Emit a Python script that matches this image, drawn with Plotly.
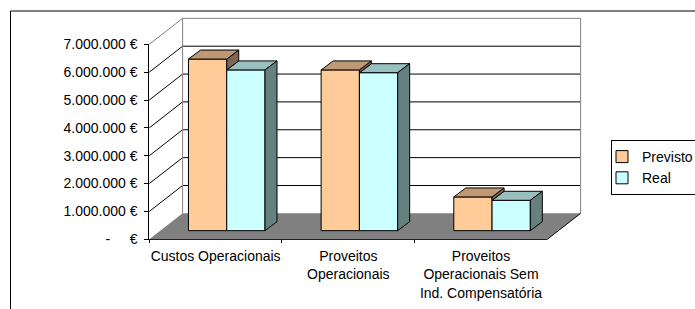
import plotly.graph_objects as go

# ---------------- data ----------------
categories = ["Custos Operacionais",
              "Proveitos<br>Operacionais",
              "Proveitos<br>Operacionais Sem<br>Ind. Compensatória"]
series_names = ["Previsto", "Real"]
previsto = [6160000, 5770000, 1210000]
real = [5770000, 5670000, 1090000]
tick_values = [0, 1000000, 2000000, 3000000, 4000000, 5000000, 6000000, 7000000]
tick_labels = ["-\u00a0\u00a0\u00a0\u00a0\u00a0€", "1.000.000 €", "2.000.000 €", "3.000.000 €",
               "4.000.000 €", "5.000.000 €", "6.000.000 €", "7.000.000 €"]

# ---------------- styles / geometry (pixels) ----------------
W, H = 695, 309
FONT = "Liberation Sans, Arial, sans-serif"
FS = 14
FX0, FX1 = 149.3, 547.3     # front plane left/right
FY0, FY7 = 239.3, 44.3      # front plane value 0 / value max
YMAX = 7000000
DUX, DUY = 11.1, 8.65       # one depth step (right, up)
BDX, BDY = 12.0, 9.0        # bar depth
GROUP = 0.577               # bar group width (category units)
LEG_X, LEG_Y = 611, 140     # legend box top-left (px)

front_cols = {"Previsto": "#FFCC99", "Real": "#CCFFFF"}
top_cols = {"Previsto": "#BF9973", "Real": "#99C0C0"}
side_cols = {"Previsto": "#806650", "Real": "#668080"}

ncat = len(categories)
ppc = (FX1 - FX0) / ncat          # px per category
ppv = (FY0 - FY7) / YMAX          # px per value unit
BX0 = FX0 + DUX                   # bar plane: px of category -0.5
BY0 = FY0 - DUY                   # bar plane: px of value 0

dux, duy = DUX / ppc, DUY / ppv   # depth step in world units
bdx, bdy = BDX / ppc, BDY / ppv   # bar depth in world units

x2range = [-0.5 - BX0 / ppc, -0.5 + (W - BX0) / ppc]
y2range = [-(H - BY0) / ppv, BY0 / ppv]

fig = go.Figure()

# bars (front faces) in bar plane
series_vals = {"Previsto": previsto, "Real": real}
for i, name in enumerate(series_names):
    fig.add_trace(go.Bar(
        x=categories, y=series_vals[name], name=name,
        xaxis="x2", yaxis="y2",
        marker=dict(color=front_cols[name], line=dict(color="black", width=1)),
        legendgroup=name,
    ))

# invisible trace on front axes to register categories
fig.add_trace(go.Scatter(x=categories, y=[None] * ncat, xaxis="x", yaxis="y",
                         showlegend=False, hoverinfo="skip", mode="markers"))


def path(pts):
    return "M " + " L ".join(f"{x:.5f},{y:.2f}" for x, y in pts) + " Z"


shapes = []


def poly(pts, fill, lc="rgba(0,0,0,0)", lw=0, layer="below"):
    shapes.append(dict(type="path", xref="x2", yref="y2", path=path(pts), fillcolor=fill,
                       line=dict(color=lc, width=lw), layer=layer))


def seg(p, q, color, width=1, layer="below"):
    shapes.append(dict(type="line", xref="x2", yref="y2", x0=p[0], y0=p[1], x1=q[0], y1=q[1],
                       line=dict(color=color, width=width), layer=layer))


xl, xr = -0.5, ncat - 0.5
# planes: front (depth -1), back (depth +2) relative to bar plane
fxl, fxr, fy = xl - dux, xr - dux, -duy
bxl, bxr, by = xl + 2 * dux, xr + 2 * dux, 2 * duy

# back wall
poly([(bxl, by), (bxr, by), (bxr, by + YMAX), (bxl, by + YMAX)], "white")
# left wall
poly([(fxl, fy), (bxl, by), (bxl, by + YMAX), (fxl, fy + YMAX)], "white")
# gridlines
for v in tick_values[1:]:
    col = "#808080" if v == YMAX else "black"
    seg((fxl, fy + v), (bxl, by + v), col)
    seg((bxl, by + v), (bxr, by + v), col)
seg((bxl, by), (bxl, by + YMAX), "#808080")
seg((bxr, by), (bxr, by + YMAX), "#808080")
# floor
poly([(fxl, fy), (fxr, fy), (bxr, by), (bxl, by)], "#808080")
seg((fxr, fy), (bxr, by), "black")

# 3D faces of the bars
w = GROUP / len(series_names)
for c in range(ncat):
    hp, hr = previsto[c], real[c]
    # Real bar (right)
    L = c - GROUP / 2 + w
    R = L + w
    poly([(L, hr), (R, hr), (R + bdx, hr + bdy), (L + bdx, hr + bdy)], top_cols["Real"], "black", 1, "above")
    poly([(R, 0), (R, hr), (R + bdx, hr + bdy), (R + bdx, bdy)], side_cols["Real"], "black", 1, "above")
    # Previsto bar (left) - visible parts
    L = c - GROUP / 2
    R = L + w
    if hp > hr:
        poly([(R, hr), (R, hp), (R + bdx, hp + bdy), (R + bdx, hr + bdy)], side_cols["Previsto"], "black", 1, "above")
    poly([(L, hp), (R, hp), (R + bdx, hp + bdy), (L + bdx, hp + bdy)], top_cols["Previsto"], "black", 1, "above")

# outer chart border
shapes.append(dict(type="rect", xref="paper", yref="paper", x0=10.5 / W, x1=1.2, y0=-0.2, y1=1 - 11 / H,
                   line=dict(color="black", width=1), fillcolor="rgba(0,0,0,0)", layer="above"))

fig.update_layout(
    width=W, height=H, autosize=False,
    margin=dict(l=0, r=0, t=0, b=0, pad=0, autoexpand=False),
    paper_bgcolor="white", plot_bgcolor="rgba(0,0,0,0)",
    font=dict(family=FONT, size=FS, color="black"),
    barmode="group", bargap=1 - GROUP, bargroupgap=0,
    shapes=shapes,
    showlegend=True,
    legend=dict(x=LEG_X / W, y=1 - LEG_Y / H, xanchor="left", yanchor="top",
                bgcolor="white", bordercolor="black", borderwidth=1,
                font=dict(family=FONT, size=FS, color="black"),
                tracegroupgap=0, indentation=-10),
    xaxis=dict(domain=[FX0 / W, FX1 / W], range=[-0.5, ncat - 0.5], type="category",
               categoryorder="array", categoryarray=categories,
               showline=True, linecolor="black", linewidth=1, showgrid=False, zeroline=False,
               ticks="outside", tickson="boundaries", ticklen=3, tickcolor="black", tickangle=0,
               ticklabelstandoff=4,
               anchor="y", fixedrange=True, automargin=False),
    yaxis=dict(domain=[(H - FY0) / H, (H - FY7) / H], range=[0, YMAX],
               tickvals=tick_values, ticktext=tick_labels,
               showline=True, linecolor="black", linewidth=1, showgrid=False, zeroline=False,
               ticks="outside", ticklen=4, tickcolor="black", anchor="x", fixedrange=True,
               ticklabelstandoff=4, automargin=False),
    xaxis2=dict(domain=[0, 1], range=x2range, type="category", visible=False, anchor="y2",
                fixedrange=True),
    yaxis2=dict(domain=[0, 1], range=y2range, visible=False, anchor="x2", fixedrange=True),
)

fig.write_html("out.html", config={"displayModeBar": False},
               post_script="document.body.style.margin='0';")
